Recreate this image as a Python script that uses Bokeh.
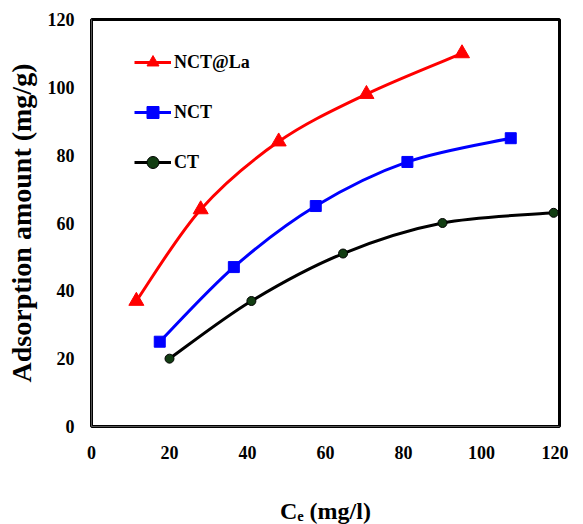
import numpy as np
from bokeh.plotting import figure
from bokeh.models import Legend, LegendItem, Range1d, ColumnDataSource, FixedTicker
from bokeh.embed import file_html
from bokeh.resources import INLINE

# ---- data ----
ce_ncla = [11.5, 28, 48, 70.5, 95]
q_ncla = [37, 64, 84, 98, 110]
ce_nct = [17.5, 36.5, 57.5, 81, 107.5]
q_nct = [25, 47, 65, 78, 85]
ce_ct = [20, 41, 64.5, 90, 118.5]
q_ct = [20, 37, 51, 60, 63]
x_ticks = [0, 20, 40, 60, 80, 100, 120]
y_ticks = [0, 20, 40, 60, 80, 100, 120]

SERIF = "Liberation Serif"


def bezier_source(xs, ys):
    """Smoothed-line segments (Catmull-Rom as cubic Bezier) through the data points."""
    P = np.column_stack([xs, ys]).astype(float)
    n = len(P)
    d = dict(x0=[], y0=[], x1=[], y1=[], cx0=[], cy0=[], cx1=[], cy1=[])
    for i in range(n - 1):
        p0 = P[i - 1] if i > 0 else P[i]
        p1 = P[i]
        p2 = P[i + 1]
        p3 = P[i + 2] if i + 2 < n else P[i + 1]
        c0 = p1 + (p2 - p0) / 6.0
        c1 = p2 - (p3 - p1) / 6.0
        d["x0"].append(p1[0]); d["y0"].append(p1[1])
        d["x1"].append(p2[0]); d["y1"].append(p2[1])
        d["cx0"].append(c0[0]); d["cy0"].append(c0[1])
        d["cx1"].append(c1[0]); d["cy1"].append(c1[1])
    return ColumnDataSource(d)


p = figure(frame_width=468, frame_height=407, output_backend="svg", toolbar_location=None,
           x_range=Range1d(0, 120), y_range=Range1d(0, 120),
           min_border_left=91, min_border_right=9, min_border_top=19, min_border_bottom=97)
p.title.visible = False

p.xgrid.visible = False
p.ygrid.visible = False
p.outline_line_color = "black"
p.outline_line_width = 3
p.background_fill_color = "white"
p.border_fill_color = "white"

for ax in (p.xaxis[0], p.yaxis[0]):
    ax.major_tick_line_color = None
    ax.minor_tick_line_color = None
    ax.axis_line_color = "#555555"
    ax.axis_line_width = 1
    ax.major_label_text_font = SERIF
    ax.major_label_text_font_style = "bold"
    ax.major_label_text_font_size = "18px"
    ax.major_label_text_color = "black"
    ax.axis_label_text_font = SERIF
    ax.axis_label_text_font_style = "bold"
    ax.axis_label_text_color = "black"

p.xaxis.ticker = FixedTicker(ticks=x_ticks)
p.yaxis.ticker = FixedTicker(ticks=y_ticks)
p.xaxis.major_label_standoff = 13
p.yaxis.major_label_standoff = 11
p.xaxis.axis_label = "C\u2091 (mg/l)"
p.xaxis.axis_label_text_font_size = "24px"
p.xaxis.axis_label_standoff = 36
p.yaxis.axis_label = "Adsorption amount (mg/g)"
p.yaxis.axis_label_text_font_size = "28px"
p.yaxis.axis_label_standoff = 8

series = [
    ("NCT@La", ce_ncla, q_ncla, "#ff0000", "triangle", 15, "#ff0000", "#ff0000"),
    ("NCT", ce_nct, q_nct, "#0000ff", "square", 11, "#0000ff", "#0000ff"),
    ("CT", ce_ct, q_ct, "black", "circle", 9, "#123d12", "black"),
]

items = []
for name, xs, ys, col, mk, sz, fill, edge in series:
    bz = p.bezier(x0="x0", y0="y0", x1="x1", y1="y1", cx0="cx0", cy0="cy0",
                  cx1="cx1", cy1="cy1", source=bezier_source(xs, ys),
                  line_color=col, line_width=3)
    sc = p.scatter(xs, ys, marker=mk, size=sz, fill_color=fill, line_color=edge)
    items.append(LegendItem(label=name, renderers=[bz, sc]))

legend = Legend(items=items, location=(43, 249))
legend.border_line_color = None
legend.background_fill_alpha = 0
legend.padding = 0
legend.margin = 0
legend.glyph_width = 37
legend.glyph_height = 30
legend.label_height = 30
legend.spacing = 20
legend.label_standoff = 3
legend.label_text_font = SERIF
legend.label_text_font_style = "bold"
legend.label_text_font_size = "18px"
legend.label_text_color = "black"
p.add_layout(legend, "center")

open("out.html", "w").write(file_html(p, INLINE))
